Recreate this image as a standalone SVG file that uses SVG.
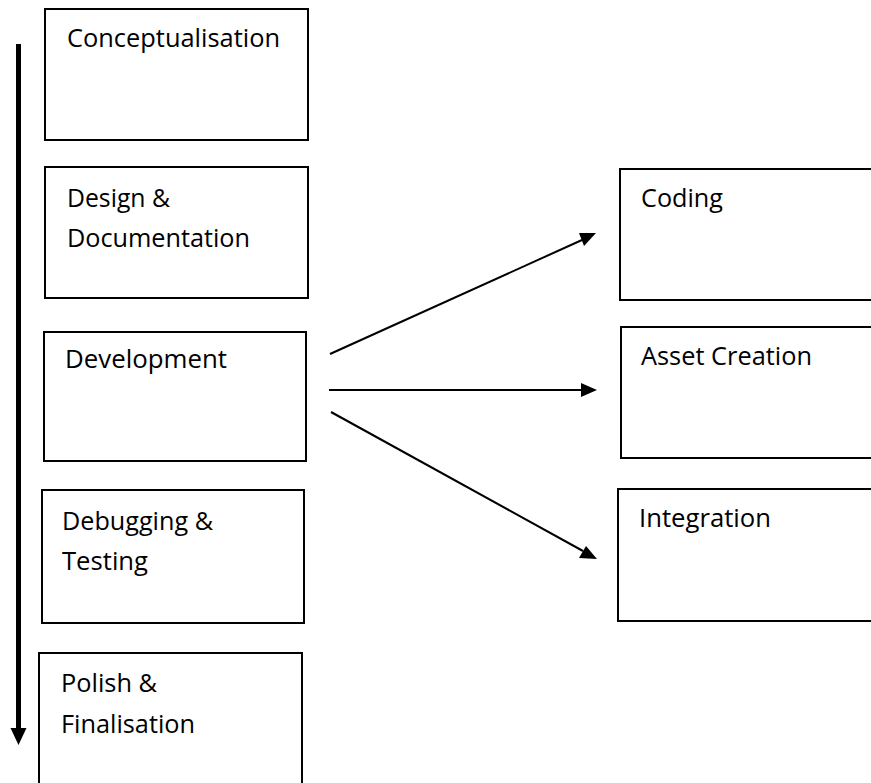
<svg xmlns="http://www.w3.org/2000/svg" width="871" height="783" viewBox="0 0 871 783">
<style>
.box{fill:#fff;stroke:#000;stroke-width:2}
.t{font-family:"Open Sans","Noto Sans","Liberation Sans",sans-serif;font-size:25.5px;fill:#000}
.c{stroke:#000;stroke-width:2;fill:none}
</style>
<rect width="871" height="783" fill="#fff"/>
<g id="connectors">
<line x1="18.5" y1="44" x2="18.5" y2="730" stroke="#000" stroke-width="5"/>
<path d="M10.5,728 L26.5,728 L18.5,745 Z" fill="#000"/>
<line class="c" x1="330" y1="354" x2="582" y2="240"/>
<path d="M596,233 L579,233 L584,246 Z" fill="#000"/>
<line class="c" x1="329" y1="390" x2="582" y2="390"/>
<path d="M597,390 L581,383 L581,397 Z" fill="#000"/>
<line class="c" x1="331" y1="412" x2="583" y2="551"/>
<path d="M597,559 L586,546 L579,558 Z" fill="#000"/>
</g>
<g id="conceptualisation">
<rect class="box" x="45" y="9" width="263" height="131"/>
<text class="t" x="67" y="47" textLength="213" lengthAdjust="spacingAndGlyphs">Conceptualisation</text>
</g>
<g id="design">
<rect class="box" x="45" y="167" width="263" height="131"/>
<text class="t" x="67" y="207" textLength="103" lengthAdjust="spacingAndGlyphs">Design &amp;</text>
<text class="t" x="67" y="247" textLength="183" lengthAdjust="spacingAndGlyphs">Documentation</text>
</g>
<g id="development">
<rect class="box" x="44" y="332" width="262" height="129"/>
<text class="t" x="65" y="368" textLength="162" lengthAdjust="spacingAndGlyphs">Development</text>
</g>
<g id="debugging">
<rect class="box" x="42" y="490" width="262" height="133"/>
<text class="t" x="62" y="530" textLength="151" lengthAdjust="spacingAndGlyphs">Debugging &amp;</text>
<text class="t" x="62" y="570" textLength="86" lengthAdjust="spacingAndGlyphs">Testing</text>
</g>
<g id="polish">
<rect class="box" x="39" y="653" width="263" height="140"/>
<text class="t" x="61" y="692" textLength="96" lengthAdjust="spacingAndGlyphs">Polish &amp;</text>
<text class="t" x="61" y="733" textLength="134" lengthAdjust="spacingAndGlyphs">Finalisation</text>
</g>
<g id="coding">
<rect class="box" x="620" y="169" width="260" height="131"/>
<text class="t" x="641" y="207" textLength="82" lengthAdjust="spacingAndGlyphs">Coding</text>
</g>
<g id="asset">
<rect class="box" x="621" y="327" width="260" height="131"/>
<text class="t" x="641" y="365" textLength="171" lengthAdjust="spacingAndGlyphs">Asset Creation</text>
</g>
<g id="integration">
<rect class="box" x="618" y="489" width="262" height="132"/>
<text class="t" x="639" y="527" textLength="132" lengthAdjust="spacingAndGlyphs">Integration</text>
</g>
</svg>
